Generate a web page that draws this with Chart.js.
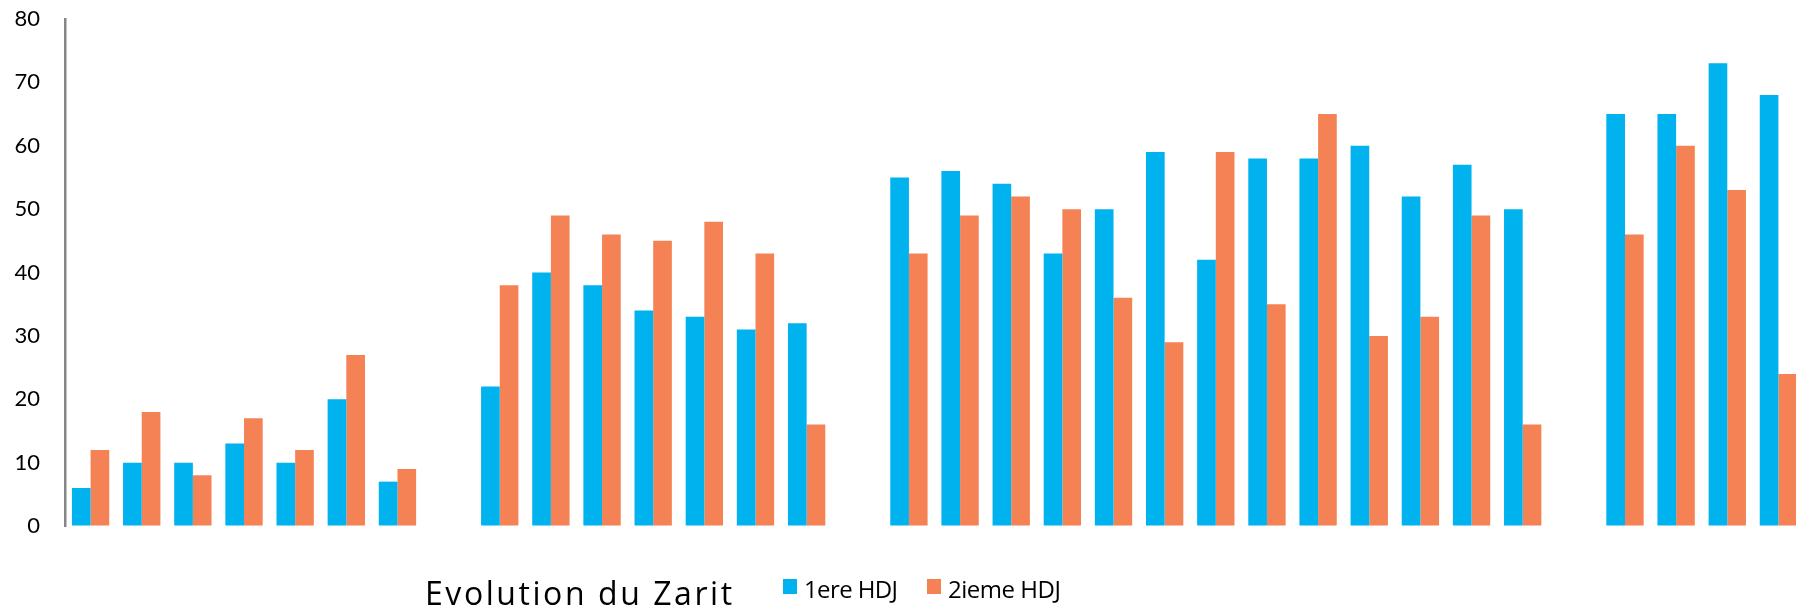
<!DOCTYPE html>
<html>
<head>
<meta charset="utf-8">
<script src="https://cdn.jsdelivr.net/npm/chart.js@4/dist/chart.umd.min.js"></script>
<style>
    html, body { margin: 0; padding: 0; background: #fff; overflow: hidden; }
    #wrap { position: relative; width: 1810px; height: 610px; }
</style>
</head>
<body>
<div id="wrap"><canvas id="zaritChart"></canvas></div>
<script>
// one category per patient, an empty slot separates the four groups
const categories = [
    'P1', 'P2', 'P3', 'P4', 'P5', 'P6', 'P7', '',
    'P8', 'P9', 'P10', 'P11', 'P12', 'P13', 'P14', '',
    'P15', 'P16', 'P17', 'P18', 'P19', 'P20', 'P21', 'P22', 'P23', 'P24', 'P25', 'P26', 'P27', '',
    'P28', 'P29', 'P30', 'P31'
];
const hdj1 = [
    6, 10, 10, 13, 10, 20, 7, null,
    22, 40, 38, 34, 33, 31, 32, null,
    55, 56, 54, 43, 50, 59, 42, 58, 58, 60, 52, 57, 50, null,
    65, 65, 73, 68
];
const hdj2 = [
    12, 18, 8, 17, 12, 27, 9, null,
    38, 49, 46, 45, 48, 43, 16, null,
    43, 49, 52, 50, 36, 29, 59, 35, 65, 30, 33, 49, 16, null,
    46, 60, 53, 24
];
const yTicks = [0, 10, 20, 30, 40, 50, 60, 70, 80];
const seriesNames = ['1ere HDJ', '2ieme HDJ'];
const chartTitle = 'Evolution du Zarit';

const BLUE = '#00B2EE';
const ORANGE = '#F48254';
const FONT = "Lato, 'Open Sans', sans-serif";
const BOTTOM_FONT = "'Open Sans', Lato, sans-serif";

// squeeze/stretch a text to the width it has in the original
function fitText(ctx, text, x, y, width) {
    ctx.letterSpacing = '0px';
    const w = ctx.measureText(text).width;
    const ls = (width - w) / Math.max(1, text.length - 1);
    ctx.letterSpacing = ls.toFixed(2) + 'px';
    ctx.fillText(text, x, y);
    ctx.letterSpacing = '0px';
}

// title + legend sit on one line under the plot, so they are drawn here
const bottomLine = {
    id: 'bottomLine',
    afterDraw(chart) {
        const ctx = chart.ctx;
        ctx.save();
        ctx.fillStyle = '#000';
        ctx.textBaseline = 'alphabetic';
        ctx.textAlign = 'left';

        ctx.font = `32px ${BOTTOM_FONT}`;
        fitText(ctx, chartTitle, 425, 605, 307);

        ctx.font = `24px ${BOTTOM_FONT}`;
        const xs = [783, 927];
        const widths = [94, 113];
        chart.data.datasets.forEach((ds, i) => {
            ctx.fillStyle = ds.backgroundColor;
            ctx.fillRect(xs[i], 579, 14, 15);
            ctx.fillStyle = '#000';
            fitText(ctx, ds.label, xs[i] + 21, 598, widths[i]);
        });
        ctx.restore();
    }
};

const ctx = document.getElementById('zaritChart').getContext('2d');
new Chart(ctx, {
    type: 'bar',
    data: {
        labels: categories,
        datasets: [
            { label: seriesNames[0], data: hdj1, backgroundColor: BLUE },
            { label: seriesNames[1], data: hdj2, backgroundColor: ORANGE }
        ]
    },
    options: {
        responsive: true,
        maintainAspectRatio: false,
        animation: false,
        devicePixelRatio: 1,
        layout: { padding: { top: 19, bottom: 84, left: 0, right: 6 } },
        datasets: {
            bar: { categoryPercentage: 0.73, barPercentage: 1.0 }
        },
        plugins: {
            legend: { display: false },
            title: { display: false },
            tooltip: { enabled: false }
        },
        scales: {
            x: { display: false },
            y: {
                min: 0,
                max: 80,
                afterBuildTicks: (scale) => { scale.ticks = yTicks.map(v => ({ value: v })); },
                afterFit: (scale) => { scale.width = 65; },
                // invisible tick marks push the labels away from the axis line
                grid: {
                    display: true,
                    drawOnChartArea: false,
                    drawTicks: true,
                    tickLength: 25,
                    tickColor: 'rgba(0,0,0,0)'
                },
                border: { display: true, color: '#868686', width: 2.5 },
                ticks: {
                    padding: 0,
                    color: '#000',
                    font: { family: FONT, size: 22 }
                }
            }
        }
    },
    plugins: [bottomLine]
});
</script>
</body>
</html>
